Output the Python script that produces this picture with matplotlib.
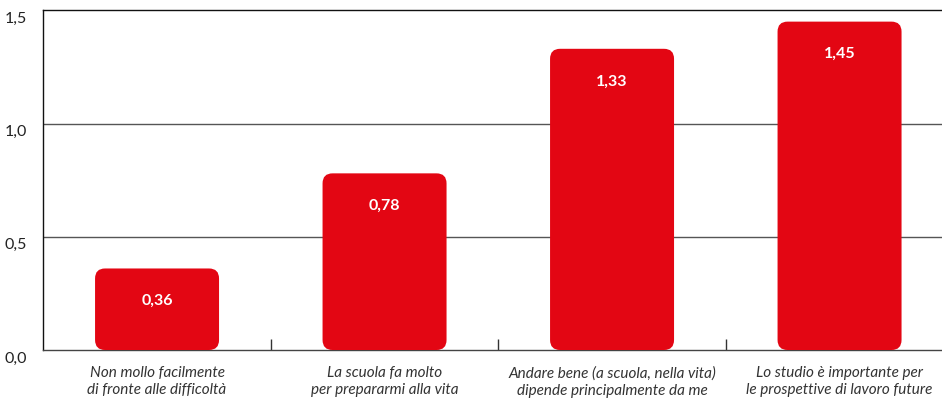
import matplotlib
matplotlib.use("Agg")
import matplotlib.pyplot as plt
from matplotlib.patches import FancyBboxPatch
from matplotlib.ticker import FixedLocator, NullFormatter
import matplotlib.transforms as mtransforms

categories = [
    "Non mollo facilmente\ndi fronte alle difficoltà",
    "La scuola fa molto\nper prepararmi alla vita",
    "Andare bene (a scuola, nella vita)\ndipende principalmente da me",
    "Lo studio è importante per\nle prospettive di lavoro future",
]
values = [0.36, 0.78, 1.33, 1.45]
value_labels = ["0,36", "0,78", "1,33", "1,45"]
yticks = [0.0, 0.5, 1.0, 1.5]
ytick_labels = ["0,0", "0,5", "1,0", "1,5"]

RED = "#E30613"
W, H, DPI = 942, 401, 100
plt.rcParams['font.family'] = ['Lato', 'DejaVu Sans']

fig = plt.figure(figsize=(W / DPI, H / DPI), dpi=DPI)
left_px, right_px, bottom_px, top_px = 43.3, 953.3, 350.0, 10.3
ax = fig.add_axes([left_px / W, (H - bottom_px) / H,
                   (right_px - left_px) / W, (bottom_px - top_px) / H])

x = list(range(len(categories)))
bars = ax.bar(x, values, width=0.545, color=RED, zorder=3)

ax.set_xlim(-0.5, len(categories) - 0.5)
ax.set_ylim(0, 1.5)

xppu = (right_px - left_px) / len(categories)
yppu = (bottom_px - top_px) / 1.5
r_px = 10
for b in bars:
    bx, by = b.get_x(), b.get_y()
    bw, bh = b.get_width(), b.get_height()
    b.set_visible(False)
    patch = FancyBboxPatch((bx, by), bw, bh,
                           boxstyle=f"round,pad=0,rounding_size={r_px / xppu}",
                           mutation_aspect=xppu / yppu,
                           facecolor=RED, edgecolor="none", zorder=3)
    ax.add_patch(patch)

for xi, v, lab in zip(x, values, value_labels):
    ax.annotate(lab, (xi, v), xytext=(0, -23.5), textcoords="offset points",
                ha="center", va="center", color="white", fontweight="bold",
                fontsize=11.5, zorder=4)

# y axis
ax.set_yticks(yticks)
ax.set_yticklabels(ytick_labels, fontsize=11.5, color="#222222")
ax.tick_params(axis="y", length=0, pad=12)
offset = mtransforms.ScaledTranslation(0, -7 / DPI, fig.dpi_scale_trans)
for lab in ax.get_yticklabels():
    lab.set_transform(lab.get_transform() + offset)

for yv in yticks[1:3]:
    ax.axhline(yv, color="#555555", linewidth=1.0, zorder=1)

# x axis
ax.set_xticks(x)
ax.set_xticklabels(categories, fontsize=11, style="italic", color="#333333",
                   linespacing=1.32)
ax.tick_params(axis="x", length=0, pad=11.5)
ax.xaxis.set_minor_locator(FixedLocator([0.5, 1.5, 2.5]))
ax.xaxis.set_minor_formatter(NullFormatter())
ax.tick_params(axis="x", which="minor", direction="in", length=8,
               color="#333333", width=1)

ax.spines["right"].set_visible(False)
ax.spines["top"].set_color("#111111")
ax.spines["top"].set_linewidth(1.0)
ax.spines["left"].set_color("#111111")
ax.spines["left"].set_linewidth(1.0)
ax.spines["bottom"].set_color("#444444")
ax.spines["bottom"].set_linewidth(1.0)

fig.savefig("out.png", dpi=DPI)
